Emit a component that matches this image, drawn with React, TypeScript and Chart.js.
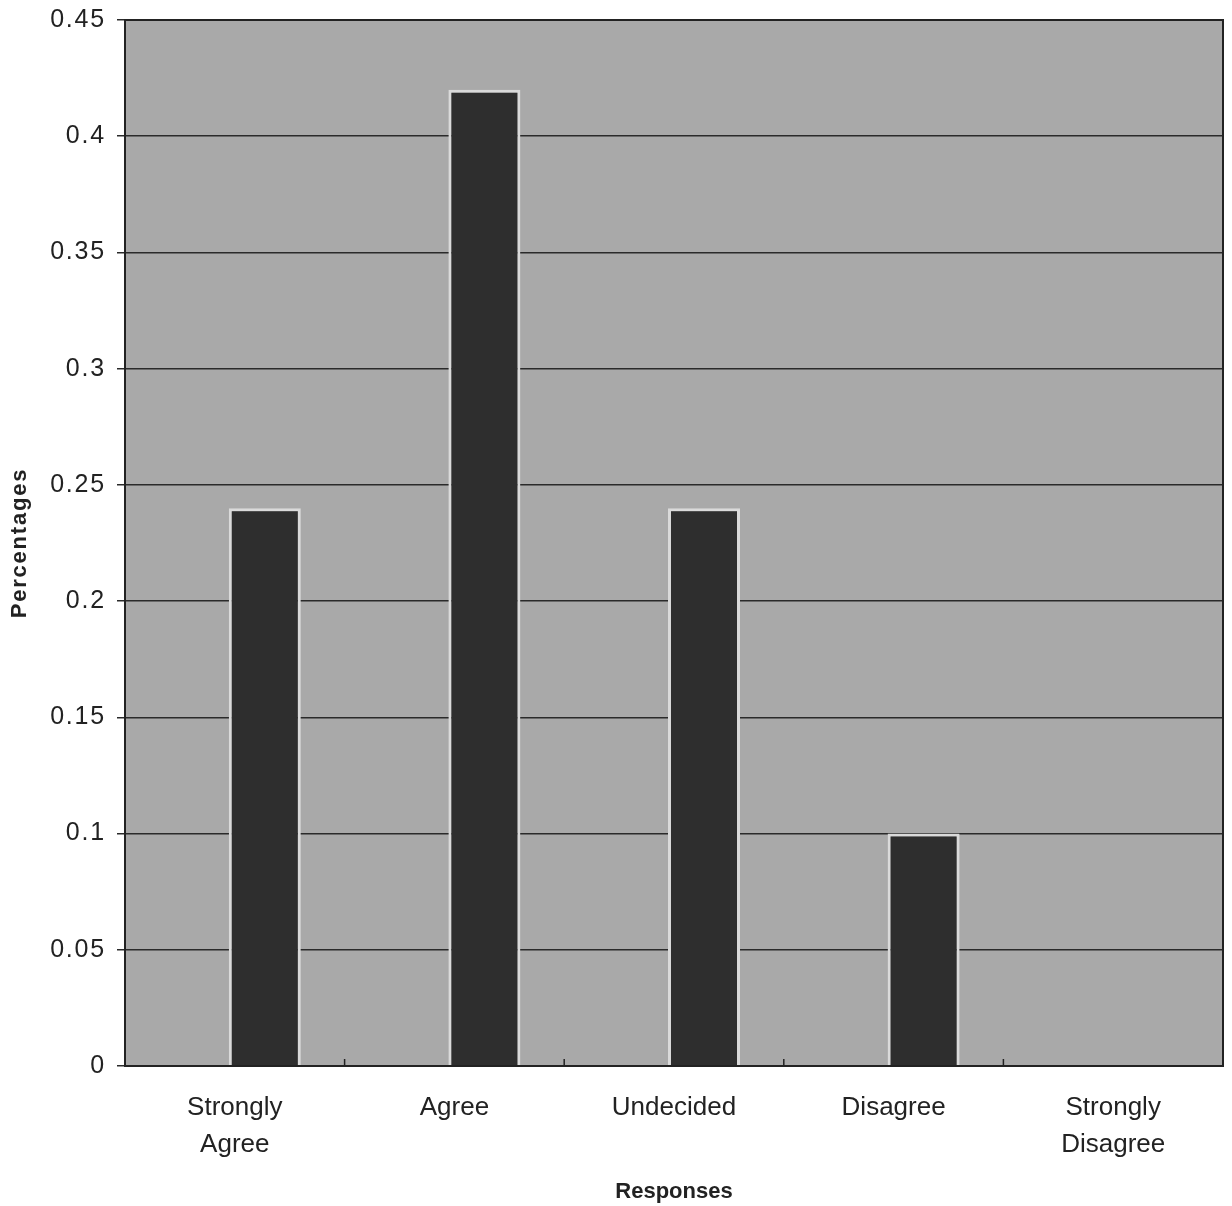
import React, { useEffect, useRef } from 'react';
import { Chart, registerables } from 'chart.js';

Chart.register(...registerables);

const categoryLabels: (string | string[])[] = [
  ['Strongly', 'Agree'],
  'Agree',
  'Undecided',
  'Disagree',
  ['Strongly', 'Disagree'],
];
const responseShares = [0.24, 0.42, 0.24, 0.1, 0];
const spacerSeries = [0, 0, 0, 0, 0];
const yMin = 0;
const yMax = 0.45;
const yStep = 0.05;
const xTitle = 'Responses';
const yTitle = 'Percentages';

const FONT = "'Liberation Sans', Arial, Helvetica, sans-serif";

const decorPlugin = {
  id: 'decor',
  beforeDraw(chart: any) {
    const ctx = chart.ctx;
    (ctx as any).letterSpacing = '1.8px';
    const a = chart.chartArea;
    ctx.save();
    ctx.fillStyle = '#ffffff';
    ctx.fillRect(0, 0, chart.width, chart.height);
    ctx.fillStyle = '#a9a9a9';
    ctx.fillRect(a.left, a.top, a.right - a.left, a.bottom - a.top);
    ctx.restore();
  },
  afterDatasetsDraw(chart: any) {
    (chart.ctx as any).letterSpacing = '0px';
  },
  afterDraw(chart: any) {
    const ctx = chart.ctx;
    const a = chart.chartArea;
    const x = chart.scales.x;
    ctx.save();
    ctx.strokeStyle = '#222';
    ctx.lineWidth = 2;
    ctx.strokeRect(a.left, a.top, a.right - a.left, a.bottom - a.top);
    ctx.lineWidth = 1.5;
    for (let i = 1; i < categoryLabels.length; i++) {
      const px = (x.getPixelForValue(i - 1) + x.getPixelForValue(i)) / 2;
      ctx.beginPath();
      ctx.moveTo(px, a.bottom);
      ctx.lineTo(px, a.bottom - 7);
      ctx.stroke();
    }
    ctx.restore();
  },
};

export default function App() {
  const ref = useRef<HTMLCanvasElement | null>(null);

  useEffect(() => {
    document.body.style.margin = '0';
    const canvas = ref.current;
    if (!canvas) return;
    const chart = new Chart(canvas, {
      type: 'bar',
      data: {
        labels: categoryLabels as any,
        datasets: [
          {
            label: 'spacer',
            data: spacerSeries,
            backgroundColor: 'rgba(0,0,0,0)',
            borderWidth: 0,
            barPercentage: 1.2,
            categoryPercentage: 0.5465,
          },
          {
            label: 'Share',
            data: responseShares,
            backgroundColor: '#2e2e2e',
            borderColor: '#dadada',
            borderWidth: 3,
            barPercentage: 1.2,
            categoryPercentage: 0.5465,
          },
        ],
      },
      options: {
        animation: false,
        responsive: false,
        maintainAspectRatio: false,
        devicePixelRatio: 1,
        layout: { padding: { top: 20, right: 9, left: 0, bottom: 0 } },
        plugins: {
          legend: { display: false },
          tooltip: { enabled: false },
        },
        scales: {
          x: {
            grid: { display: false, drawTicks: false, z: 1 },
            border: { display: false, z: 1 },
            ticks: {
              z: 1,
              color: '#222',
              font: { family: FONT, size: 26, lineHeight: 1.4 },
              padding: 24,
              maxRotation: 0,
              autoSkip: false,
            },
            title: {
              display: true,
              text: xTitle,
              color: '#222',
              font: { family: FONT, size: 22, weight: 'bold', lineHeight: 1.2 },
              padding: { top: 0, bottom: 1 },
            },
            afterFit(scale: any) {
              scale.height = 140;
              scale.paddingLeft = 0;
              scale.paddingRight = 0;
            },
          },
          y: {
            min: yMin,
            max: yMax,
            grid: {
              color: '#2a2a2a',
              lineWidth: 1.5,
              drawTicks: true,
              tickLength: 8,
            },
            border: { display: false },
            ticks: {
              stepSize: yStep,
              color: '#222',
              font: { family: FONT, size: 25 },
              padding: 11,
              callback: (v: any) => String(+Number(v).toFixed(2)),
            },
            title: {
              display: true,
              text: yTitle,
              color: '#222',
              font: { family: FONT, size: 22, weight: 'bold', lineHeight: 1.2 },
              padding: { top: 7, bottom: 7 },
            },
            afterFit(scale: any) {
              scale.width = 125;
              scale.paddingTop = 0;
              scale.paddingBottom = 0;
            },
          },
        },
      },
      plugins: [decorPlugin],
    });
    return () => chart.destroy();
  }, []);

  return (
    <div style={{ width: 1232, height: 1206 }}>
      <canvas ref={ref} width={1232} height={1206} style={{ display: 'block', width: 1232, height: 1206 }} />
    </div>
  );
}
